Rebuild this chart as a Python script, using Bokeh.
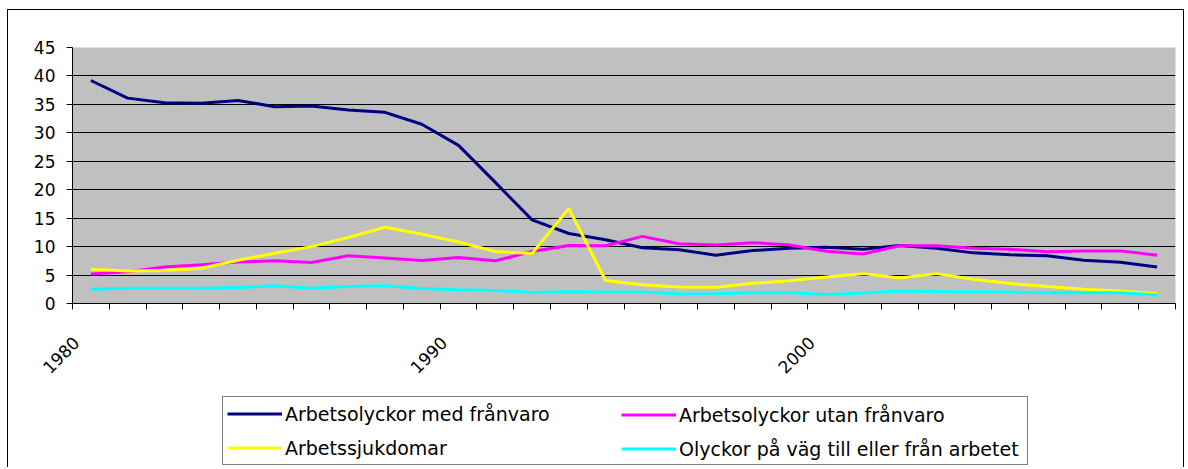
import math
from bokeh.plotting import figure
from bokeh.layouts import column
from bokeh.models import Range1d, FixedTicker, Legend, LegendItem, ColumnDataSource
from bokeh.embed import file_html
from bokeh.resources import INLINE

years = list(range(1980, 2010))
med_franvaro = [39.2, 36.1, 35.3, 35.2, 35.7, 34.6, 34.7, 34.0, 33.6, 31.5,
                27.8, 21.3, 14.7, 12.3, 11.2, 9.8, 9.45, 8.5, 9.3, 9.7,
                9.9, 9.55, 10.2, 9.7, 8.9, 8.55, 8.4, 7.6, 7.25, 6.4]
utan_franvaro = [5.2, 5.6, 6.4, 6.8, 7.3, 7.5, 7.2, 8.4, 8.0, 7.55,
                 8.1, 7.5, 9.15, 10.2, 10.15, 11.8, 10.5, 10.3, 10.7, 10.3,
                 9.2, 8.7, 10.15, 10.15, 9.7, 9.55, 9.1, 9.25, 9.25, 8.5]
arbetssjukdomar = [6.0, 5.7, 5.8, 6.2, 7.6, 8.85, 10.0, 11.6, 13.4, 12.2,
                   10.8, 9.15, 8.8, 16.7, 4.05, 3.3, 2.9, 2.85, 3.55, 4.0,
                   4.65, 5.25, 4.5, 5.25, 4.25, 3.5, 3.0, 2.5, 2.2, 1.7]
vagolyckor = [2.5, 2.7, 2.7, 2.7, 2.8, 3.1, 2.7, 3.0, 3.1, 2.65,
              2.4, 2.3, 1.95, 2.05, 2.0, 2.0, 1.65, 1.7, 1.9, 1.9,
              1.6, 1.85, 2.2, 2.1, 2.05, 2.0, 1.9, 1.9, 1.9, 1.5]

labels = ["Arbetsolyckor med frånvaro", "Arbetsolyckor utan frånvaro",
          "Arbetssjukdomar", "Olyckor på väg till eller från arbetet"]
colors = ["#000080", "#FF00FF", "#FFFF00", "#00FFFF"]
y_ticks = list(range(0, 50, 5))
x_label_years = [1980, 1990, 2000]

FONT = "DejaVu Sans"
BORDER = "1px solid black"

# ---------------- main chart ----------------
p = figure(width=1177, height=376, output_backend="svg", toolbar_location=None,
           x_range=Range1d(years[0] - 0.5, years[-1] + 0.5), y_range=Range1d(0, 45),
           min_border_left=64, min_border_right=10, min_border_top=37,
           min_border_bottom=83,
           background_fill_color="#C0C0C0", border_fill_color="white",
           outline_line_color=None)
p.styles = {"border-top": BORDER, "border-left": BORDER, "border-right": BORDER}

series = [med_franvaro, utan_franvaro, arbetssjukdomar, vagolyckor]
for data, col in zip(series, colors):
    p.line(years, data, line_color=col, line_width=3)

p.yaxis.ticker = FixedTicker(ticks=y_ticks)
p.yaxis.major_tick_out = 6
p.yaxis.major_tick_in = 0
p.yaxis.minor_tick_out = 0
p.yaxis.minor_tick_in = 0
p.yaxis.axis_line_color = "black"
p.yaxis.major_tick_line_color = "black"
p.yaxis.major_label_standoff = 11
p.yaxis.major_label_text_font = FONT
p.yaxis.major_label_text_font_size = "17px"
p.yaxis.major_label_text_color = "black"

label_pos = [y - 0.4 for y in x_label_years]
p.xaxis.ticker = FixedTicker(ticks=label_pos,
                             minor_ticks=[y - 0.5 for y in years] + [years[-1] + 0.5])
p.xaxis.major_label_overrides = {pos: str(y) for pos, y in zip(label_pos, x_label_years)}
p.xaxis.major_tick_out = 0
p.xaxis.major_tick_in = 0
p.xaxis.minor_tick_out = 6
p.xaxis.minor_tick_in = 0
p.xaxis.minor_tick_line_color = "black"
p.xaxis.axis_line_color = "black"
p.xaxis.major_label_orientation = math.pi / 4
p.xaxis.major_label_standoff = 30
p.xaxis.major_label_text_font = FONT
p.xaxis.major_label_text_font_size = "17px"
p.xaxis.major_label_text_color = "black"

p.xgrid.visible = False
p.ygrid.ticker = FixedTicker(ticks=y_ticks)
p.ygrid.grid_line_color = "black"
p.ygrid.grid_line_width = 1

# ---------------- legend strip ----------------
p2 = figure(width=1177, height=82, output_backend="svg", toolbar_location=None,
            x_axis_type=None, y_axis_type=None,
            x_range=Range1d(0, 1), y_range=Range1d(0, 1),
            min_border=0, min_border_left=0, min_border_right=0,
            min_border_top=0, min_border_bottom=0,
            background_fill_color="white", border_fill_color="white",
            outline_line_color=None)
p2.grid.visible = False
p2.styles = {"border-left": BORDER, "border-right": BORDER}

# legend proxies (one NaN point each, nothing visible is drawn)
proxies = []
for col in colors:
    src = ColumnDataSource(data=dict(x=[float("nan")], y=[float("nan")]))
    proxies.append(p2.line("x", "y", source=src, line_color=col, line_width=3))

common = dict(orientation="vertical", padding=4, spacing=9, margin=0,
              glyph_width=55, glyph_height=25, label_height=25, label_standoff=3,
              label_text_font=FONT, label_text_font_size="19px",
              label_text_color="black")

legA = Legend(items=[LegendItem(label=labels[0], renderers=[proxies[0]]),
                     LegendItem(label=labels[2], renderers=[proxies[2]])],
              location=(150, 2), border_line_color="black", border_line_width=1,
              background_fill_color="white", background_fill_alpha=1.0,
              label_width=738, **common)
legB = Legend(items=[LegendItem(label=labels[1], renderers=[proxies[1]]),
                     LegendItem(label=labels[3], renderers=[proxies[3]])],
              location=(549, 6), border_line_color=None,
              background_fill_alpha=0.0, **common)
p2.add_layout(legA, "center")
p2.add_layout(legB, "center")

layout = column(p, p2, spacing=0, margin=(9, 0, 0, 7))

open("out.html", "w").write(file_html(layout, INLINE))
